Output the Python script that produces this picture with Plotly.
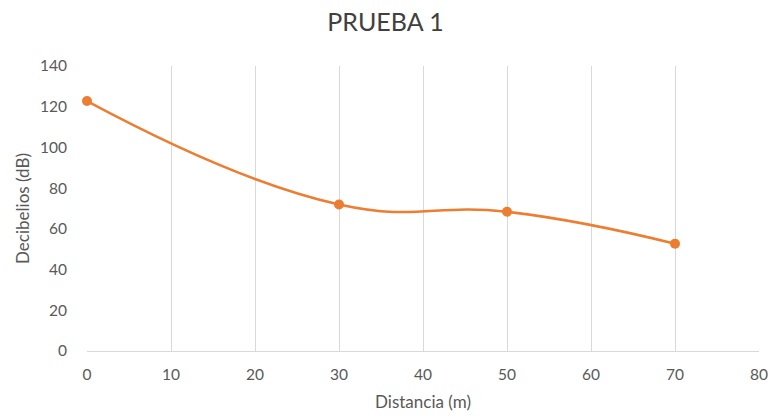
import plotly.graph_objects as go

distancia = [0, 30, 50, 70]
decibelios = [122.8, 72, 68.4, 52.7]
x_ticks = [0, 10, 20, 30, 40, 50, 60, 70, 80]
y_ticks = [0, 20, 40, 60, 80, 100, 120, 140]

fig = go.Figure()
fig.add_trace(go.Scatter(
    x=distancia, y=decibelios, mode="lines+markers",
    line=dict(color="#ED7D31", width=2.5, shape="spline", smoothing=1.3),
    marker=dict(color="#ED7D31", size=10),
    cliponaxis=False,
))

fig.update_layout(
    width=771, height=417,
    margin=dict(l=87, r=12, t=66, b=66),
    paper_bgcolor="white", plot_bgcolor="white",
    showlegend=False,
    font=dict(family="Lato, sans-serif", color="#595959", size=15.5),
    title=dict(text="PRUEBA 1", x=0.5, xanchor="center", y=0.946, yanchor="middle",
               font=dict(size=25, color="#404040")),
)
fig.update_xaxes(
    range=[0, 80], tickvals=x_ticks, showgrid=True, gridcolor="#d9d9d9", gridwidth=1,
    showline=True, linecolor="#d9d9d9", linewidth=1, zeroline=False,
    ticks="", ticklabelstandoff=9, automargin=False,
    title=dict(text="Distancia (m)", font=dict(size=17, color="#595959"), standoff=14),
)
fig.update_yaxes(
    range=[0, 140], tickvals=y_ticks, showgrid=False, zeroline=False, showline=False,
    ticks="", ticklabelstandoff=19, automargin=False,
    title=dict(text="Decibelios (dB)", font=dict(size=17, color="#595959"), standoff=6),
)

fig.write_html("out.html", config={"displayModeBar": False},
               post_script="document.body.style.margin='0';")
